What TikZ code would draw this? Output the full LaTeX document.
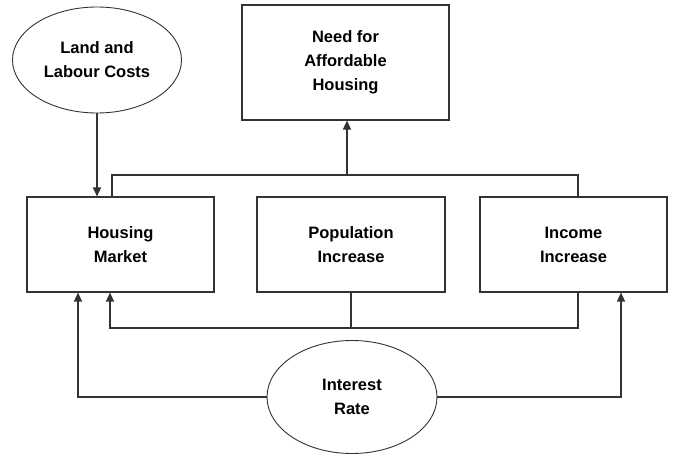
\documentclass[tikz,border=0pt]{standalone}
\usepackage{fontspec}
\setsansfont{Liberation Sans}
\usetikzlibrary{positioning,arrows.meta,shapes.geometric}
\definecolor{hsLine}{HTML}{333333}
\tikzset{
  box/.style={
    draw=hsLine, line width=1.1pt, fill=white, rectangle,
    minimum width=#1, minimum height=95pt, align=center,
    font=\sffamily\bfseries\fontsize{16.5}{24}\selectfont},
  box/.default=187pt,
  oval/.style={
    draw=hsLine, line width=0.9pt, fill=white, ellipse,
    minimum width=#1, align=center,
    font=\sffamily\bfseries\fontsize{16.5}{24}\selectfont},
  oval/.default=170pt,
  link/.style={draw=hsLine, line width=1.3pt},
  arrlink/.style={link, -{Triangle[length=9pt,width=8pt]}},
}
\begin{document}
\begin{tikzpicture}[x=1pt, y=-1pt]
\useasboundingbox (0,0) rectangle (677,457);

\node[oval=169pt, minimum height=106pt] (land) at (97,60) {Land and\\Labour Costs};
\node[box=207pt, minimum height=115pt] (need) at (345.5,62.5) {Need for\\Affordable\\Housing};

\node[box] (housing) at (120.5,244.5) {Housing\\Market};
\node[box=188pt] (pop) at (351,244.5) {Population\\Increase};
\node[box] (income) at (573.5,244.5) {Income\\Increase};

\node[oval, minimum height=113pt] (interest) at (352,397) {Interest\\Rate};

\coordinate (bus) at (347,175);
\coordinate (lowbus) at (347,328);
\coordinate (houTop) at ([xshift=-8.5pt]housing.north);
\coordinate (incTop) at ([xshift=4.5pt]income.north);
\coordinate (houBot) at ([xshift=-10.5pt]housing.south);
\coordinate (incBot) at ([xshift=4.5pt]income.south);
\coordinate (houRate) at ([xshift=-42.5pt]housing.south);
\coordinate (incRate) at ([xshift=47.5pt]income.south);

% costs into the market
\draw[arrlink] (land.south) -- (land.south |- housing.north);

% upper bus towards the need
\draw[link] (houTop) |- (bus -| incTop) -- (incTop);
\draw[arrlink] (bus) -- (bus |- need.south);

% lower bus back to the market
\draw[link] (pop.south) -- (pop.south |- lowbus);
\draw[arrlink] (incBot) |- (lowbus -| houBot) -- (houBot);

% interest rate
\draw[arrlink] (interest.west) -| (houRate);
\draw[arrlink] (interest.east) -| (incRate);

\end{tikzpicture}
\end{document}
